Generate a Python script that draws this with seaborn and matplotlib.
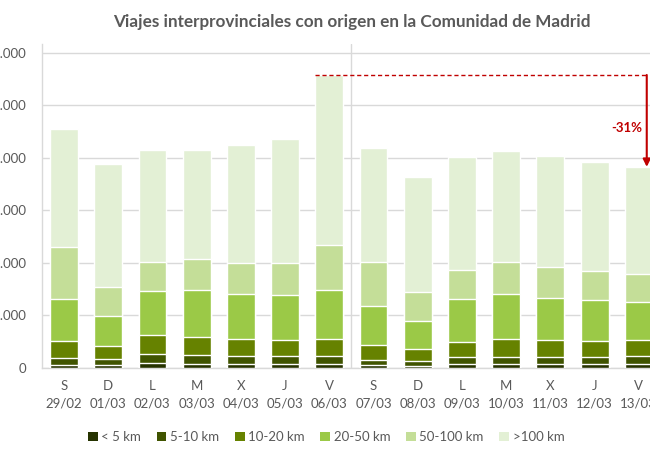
import numpy as np
import pandas as pd
import matplotlib
matplotlib.use("Agg")
import matplotlib.pyplot as plt
import seaborn as sns
from matplotlib.patches import Patch
from matplotlib.ticker import FuncFormatter

days = ["S", "D", "L", "M", "X", "J", "V", "S", "D", "L", "M", "X", "J", "V"]
dates = ["29/02", "01/03", "02/03", "03/03", "04/03", "05/03", "06/03",
         "07/03", "08/03", "09/03", "10/03", "11/03", "12/03", "13/03"]
series_names = ["< 5 km", "5-10 km", "10-20 km", "20-50 km", "50-100 km", ">100 km"]

lt5 = [10, 10, 18, 14, 14, 14, 14, 10, 6, 14, 14, 14, 14, 14]
km5_10 = [27, 23, 34, 34, 31, 31, 31, 19, 19, 27, 27, 27, 27, 31]
km10_20 = [65, 50, 73, 69, 64, 60, 64, 57, 46, 57, 68, 64, 61, 60]
km20_50 = [160, 114, 167, 179, 172, 172, 187, 149, 107, 164, 172, 161, 156, 145]
km50_100 = [198, 110, 111, 118, 118, 122, 171, 168, 110, 110, 122, 118, 110, 107]
gt100 = [449, 469, 426, 415, 449, 472, 648, 434, 439, 431, 423, 423, 416, 408]

colors = ["#263300", "#405400", "#668200", "#9bc947", "#c4de98", "#e3f0d5"]

values = np.array([lt5, km5_10, km10_20, km20_50, km50_100, gt100], dtype=float) * 1000
cum = np.cumsum(values, axis=0)
cats = [f"{d}\n{dt}" for d, dt in zip(days, dates)]

sns.set_theme(style="white")
plt.rcParams["font.family"] = ["Lato", "DejaVu Sans"]

fig = plt.figure(figsize=(6.5, 4.55), dpi=100)
ax = fig.add_axes([41.9 / 650, (455 - 367.7) / 455, 619 / 650, 323.7 / 455])

bw = 0.63
for i in reversed(range(len(series_names))):
    df = pd.DataFrame({"cat": cats, "val": cum[i]})
    sns.barplot(data=df, x="cat", y="val", color=colors[i], saturation=1,
                width=bw, ax=ax, zorder=3)

ax.set_xlim(-0.5, len(cats) - 0.5)
ax.set_ylim(0, 1233000)
ax.set_yticks(np.arange(0, 1200001, 200000))
ax.yaxis.set_major_formatter(FuncFormatter(lambda v, p: f"{int(v):,}".replace(",", ".")))
ax.grid(axis="y", color="#d9d9d9", lw=1, zorder=0)
ax.grid(axis="x", visible=False)
ax.set_xlabel("")
ax.set_ylabel("")
for s in ["top", "right"]:
    ax.spines[s].set_visible(False)
for s in ["left", "bottom"]:
    ax.spines[s].set_color("#d9d9d9")
    ax.spines[s].set_linewidth(1)
ax.axvline(6.5, color="#d9d9d9", lw=1, zorder=1)
ax.tick_params(axis="both", length=0, colors="#595959", labelsize=9.5)
ax.tick_params(axis="y", pad=11)
ax.tick_params(axis="x", pad=9)
for t in ax.get_xticklabels():
    t.set_linespacing(1.5)

# annotation: drop from peak (bar 7) to last bar
totals = cum[-1]
i_peak, i_last = 6, len(cats) - 1
x_arrow = i_last + 0.18
red = "#c00000"
ax.plot([i_peak - bw / 2, x_arrow], [totals[i_peak], totals[i_peak]],
        color=red, lw=1, ls=(0, (3, 2)), zorder=4)
ax.annotate("", xy=(x_arrow, totals[i_last]), xytext=(x_arrow, totals[i_peak]),
            arrowprops=dict(arrowstyle="-|>", color=red, lw=1.5, mutation_scale=11,
                            shrinkA=0, shrinkB=0), zorder=5)
pct = (totals[i_last] / totals[i_peak] - 1) * 100
ax.text(12.73, 913000, f"{pct:.0f}%", color=red, fontsize=9.5, fontweight="bold",
        ha="center", va="center", zorder=5)

fig.text(352 / 650, 0.952, "Viajes interprovinciales con origen en la Comunidad de Madrid",
         ha="center", va="center", fontsize=12.3, fontweight="bold", color="#595959")

handles = [Patch(facecolor=c, edgecolor="none") for c in colors]
fig.legend(handles, series_names, loc="center", bbox_to_anchor=(326 / 650, 1 - 437 / 455),
           ncol=6, frameon=False, fontsize=9.5, handlelength=0.75, handleheight=0.75,
           handletextpad=0.25, columnspacing=1.2, labelcolor="#595959")

fig.savefig("out.png", dpi=100)
